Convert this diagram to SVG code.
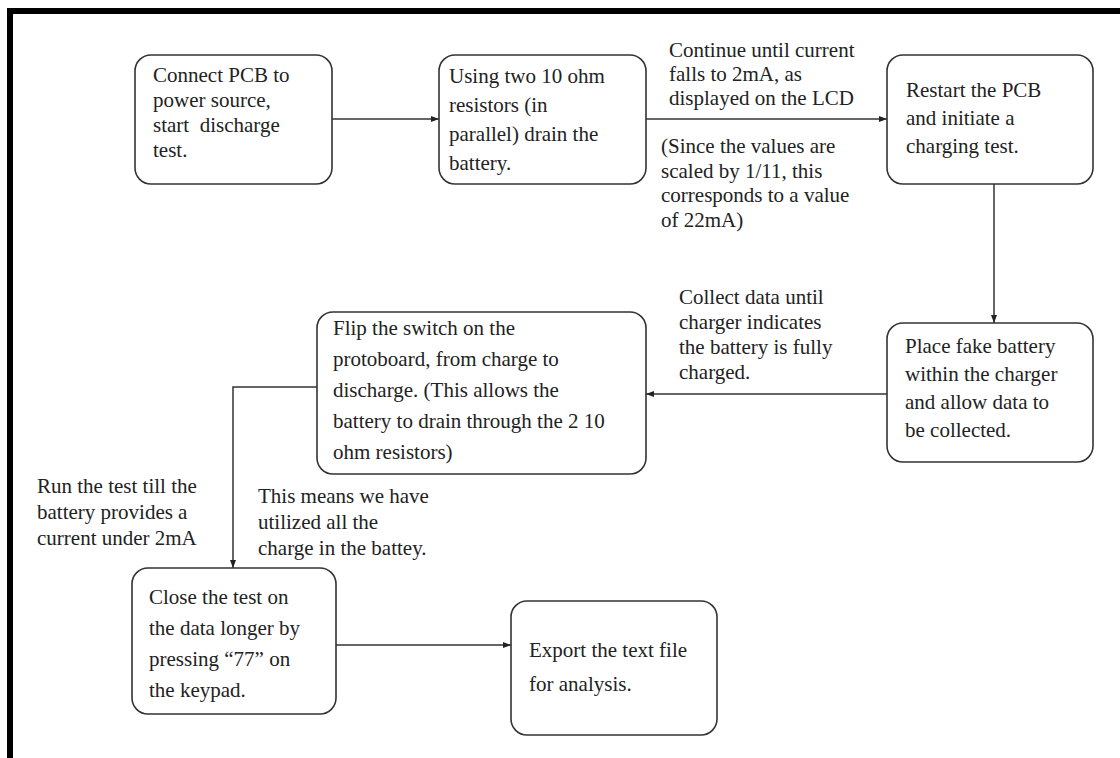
<svg xmlns="http://www.w3.org/2000/svg" width="1120" height="758" viewBox="0 0 1120 758">
<defs>
<marker id="ah" markerWidth="8" markerHeight="6" refX="8" refY="3" orient="auto" markerUnits="userSpaceOnUse">
<path d="M0,0 L8,3 L0,6 Z" fill="#222"/>
</marker>
<style>
.box{fill:#fff;stroke:#333;stroke-width:1.6}
.t{font-family:"Liberation Serif","Times New Roman",serif;font-size:21px;fill:#222}
.c{fill:none;stroke:#333;stroke-width:1.5}
</style>
</defs>
<rect x="0" y="0" width="1120" height="758" fill="#fff"/>
<rect x="7" y="8" width="1113" height="6" fill="#000"/>
<rect x="7" y="8" width="6" height="750" fill="#000"/>

<g id="connectors">
<path class="c" d="M332,119 H439" marker-end="url(#ah)"/>
<path class="c" d="M646,119 H887" marker-end="url(#ah)"/>
<path class="c" d="M994,184 V323" marker-end="url(#ah)"/>
<path class="c" d="M887,394 H646" marker-end="url(#ah)"/>
<path class="c" d="M317,387 H233 V568" marker-end="url(#ah)"/>
<path class="c" d="M336,645 H511" marker-end="url(#ah)"/>
</g>

<g id="n1">
<rect class="box" x="135" y="55" width="197" height="129" rx="16"/>
<text class="t" x="153" y="82">Connect PCB to</text>
<text class="t" x="153" y="107">power source,</text>
<text class="t" x="153" y="132" xml:space="preserve">start  discharge</text>
<text class="t" x="153" y="157">test.</text>
</g>

<g id="n2">
<rect class="box" x="439" y="55" width="207" height="129" rx="16"/>
<text class="t" x="449" y="83">Using two 10 ohm</text>
<text class="t" x="449" y="112">resistors (in</text>
<text class="t" x="449" y="141">parallel) drain the</text>
<text class="t" x="449" y="170">battery.</text>
</g>

<g id="l1">
<text class="t" x="669" y="57">Continue until current</text>
<text class="t" x="669" y="81">falls to 2mA, as</text>
<text class="t" x="669" y="105">displayed on the LCD</text>
</g>
<g id="l2">
<text class="t" x="661" y="153">(Since the values are</text>
<text class="t" x="661" y="178">scaled by 1/11, this</text>
<text class="t" x="661" y="202">corresponds to a value</text>
<text class="t" x="661" y="227">of 22mA)</text>
</g>

<g id="n3">
<rect class="box" x="887" y="55" width="206" height="129" rx="16"/>
<text class="t" x="906" y="97">Restart the PCB</text>
<text class="t" x="906" y="125">and initiate a</text>
<text class="t" x="906" y="153">charging test.</text>
</g>

<g id="n4">
<rect class="box" x="887" y="323" width="206" height="139" rx="16"/>
<text class="t" x="905" y="353">Place fake battery</text>
<text class="t" x="905" y="381">within the charger</text>
<text class="t" x="905" y="409">and allow data to</text>
<text class="t" x="905" y="437">be collected.</text>
</g>

<g id="l3">
<text class="t" x="679" y="304">Collect data until</text>
<text class="t" x="679" y="329">charger indicates</text>
<text class="t" x="679" y="354">the battery is fully</text>
<text class="t" x="679" y="379">charged.</text>
</g>

<g id="n5">
<rect class="box" x="317" y="312" width="329" height="162" rx="16"/>
<text class="t" x="333" y="335">Flip the switch on the</text>
<text class="t" x="333" y="366">protoboard, from charge to</text>
<text class="t" x="333" y="397">discharge. (This allows the</text>
<text class="t" x="333" y="428">battery to drain through the 2 10</text>
<text class="t" x="333" y="459">ohm resistors)</text>
</g>

<g id="l4">
<text class="t" x="37" y="493">Run the test till the</text>
<text class="t" x="37" y="519">battery provides a</text>
<text class="t" x="37" y="545">current under 2mA</text>
</g>
<g id="l5">
<text class="t" x="258" y="503">This means we have</text>
<text class="t" x="258" y="529">utilized all the</text>
<text class="t" x="258" y="555">charge in the battey.</text>
</g>

<g id="n6">
<rect class="box" x="132" y="568" width="204" height="146" rx="16"/>
<text class="t" x="149" y="604">Close the test on</text>
<text class="t" x="149" y="635">the data longer by</text>
<text class="t" x="149" y="666">pressing “77” on</text>
<text class="t" x="149" y="697">the keypad.</text>
</g>

<g id="n7">
<rect class="box" x="511" y="601" width="206" height="134" rx="16"/>
<text class="t" x="529" y="657">Export the text file</text>
<text class="t" x="529" y="691">for analysis.</text>
</g>
</svg>
